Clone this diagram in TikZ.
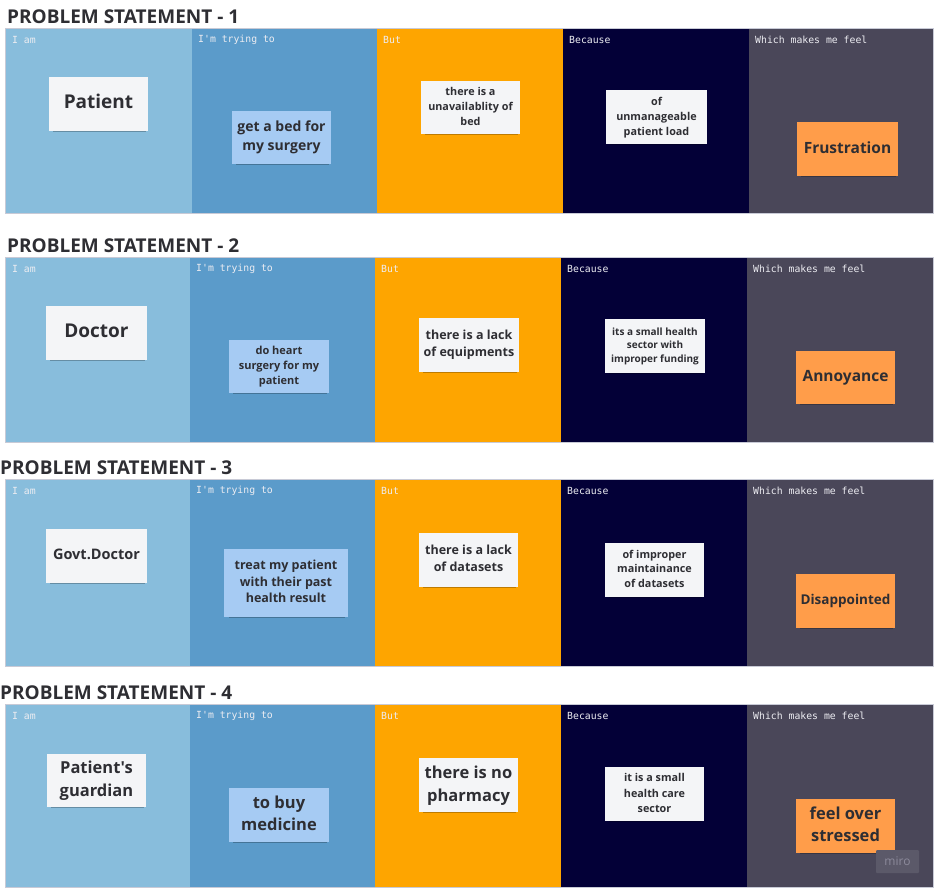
\documentclass[tikz,border=0pt]{standalone}
\usepackage{fontspec}
\setmainfont{Open Sans}
\newfontfamily\osans{Open Sans}
\newfontfamily\monofont{DejaVu Sans Mono}
\usetikzlibrary{shadows}
\definecolor{colA}{HTML}{88BDDC}
\definecolor{colB}{HTML}{5B9BCA}
\definecolor{colC}{HTML}{FEA500}
\definecolor{colD}{HTML}{030037}
\definecolor{colE}{HTML}{4A4759}
\definecolor{stWhite}{HTML}{F4F5F7}
\definecolor{stBlue}{HTML}{A6CBF3}
\definecolor{stOrange}{HTML}{FF9D4A}
\definecolor{inkc}{HTML}{2E2E33}
\definecolor{headc}{HTML}{EDEDF2}
\definecolor{edgec}{HTML}{C8CAD6}
\definecolor{logobox}{HTML}{5B5969}
\definecolor{logotext}{HTML}{8C8A9B}
\newcommand\stk[1]{\raisebox{2.5pt}{\begin{tabular}{@{}c@{}}#1\end{tabular}}}
\newcommand\apos{{\char"0027}}
\tikzset{
  colhead/.style={anchor=west, font=\monofont\fontsize{9.8}{11}\selectfont, text=headc, inner sep=0pt},
  pstitle/.style={anchor=base west, font=\osans\bfseries\fontsize{19}{22}\selectfont, text=inkc, inner sep=0pt},
  sticky/.style 2 args={draw=none, align=center, text=inkc, inner sep=0pt,
    minimum width=#1, minimum height=#2,
    drop shadow={shadow xshift=1pt, shadow yshift=-3pt, shadow scale=0.94, opacity=0.25, fill=black}},
  wnote/.style={fill=stWhite},
  bnote/.style={fill=stBlue},
  onote/.style={fill=stOrange},
  fs/.style 2 args={font=\osans\bfseries\fontsize{#1}{#2}\selectfont},
}
\newcommand\psboard[8]{% top, bottom, x1..x4 boundaries, title x, number
  \fill[colA] (5,#1) rectangle (#3,#2);
  \fill[colB] (#3,#1) rectangle (#4,#2);
  \fill[colC] (#4,#1) rectangle (#5,#2);
  \fill[colD] (#5,#1) rectangle (#6,#2);
  \fill[colE] (#6,#1) rectangle (933,#2);
  \draw[edgec, line width=0.6pt] (5,#1) rectangle (933,#2);
  \node[pstitle] (title#8) at (#7,#1-5) {PROBLEM STATEMENT - #8};
  \node[colhead] (ia#8) at (12,#1+12) {I am};
  \node[colhead] (tr#8) at (#3+6,#1+12) {I\apos m trying to};
  \node[colhead] (bu#8) at (#4+6,#1+12) {But};
  \node[colhead] (be#8) at (#5+6,#1+12) {Because};
  \node[colhead] (fe#8) at (#6+6,#1+12) {Which makes me feel};
}
\begin{document}
\begin{tikzpicture}[x=1pt, y=-1pt]
\useasboundingbox[fill=white] (0,0) rectangle (940,895);

% ---------- Board 1 ----------
\psboard{28}{213}{192}{377}{563}{749}{7}{1}
\node[sticky={99pt}{54pt}, wnote, fs={19}{24}] (s11) at (98.5,104) {\stk{Patient}};
\node[sticky={99pt}{53pt}, bnote, fs={14}{19}] (s12) at (281.5,137.5) {\stk{get a bed for\\my surgery}};
\node[sticky={99pt}{53pt}, wnote, fs={10.8}{15}] (s13) at (470.5,107.5) {\stk{there is a\\unavailablity of\\bed}};
\node[sticky={101pt}{54pt}, wnote, fs={10.8}{15}] (s14) at (656.5,117) {\stk{of\\unmanageable\\patient load}};
\node[sticky={101pt}{54pt}, onote, fs={15.5}{20}] (s15) at (847.5,149) {\stk{Frustration}};

% ---------- Board 2 ----------
\psboard{257}{442}{190}{375}{561}{747}{7}{2}
\node[sticky={101pt}{54pt}, wnote, fs={19}{24}] (s21) at (96.5,333) {\stk{Doctor}};
\node[sticky={100pt}{53pt}, bnote, fs={11}{15.3}] (s22) at (279,366.5) {\stk{do heart\\surgery for my\\patient}};
\node[sticky={100pt}{54pt}, wnote, fs={12.5}{17}] (s23) at (469,345) {\stk{there is a lack\\of equipments}};
\node[sticky={100pt}{54pt}, wnote, fs={10}{13.7}] (s24) at (655,346) {\stk{its a small health\\sector with\\improper funding}};
\node[sticky={99pt}{53pt}, onote, fs={15.5}{20}] (s25) at (845.5,377.5) {\stk{Annoyance}};

% ---------- Board 3 ----------
\psboard{479}{666}{190}{375}{561}{747}{0}{3}
\node[sticky={101pt}{54pt}, wnote, fs={14.5}{19}] (s31) at (96.5,556) {\stk{Govt.Doctor}};
\node[sticky={124pt}{68pt}, bnote, fs={12.5}{16.5}] (s32) at (286,583) {\stk{treat my patient\\with their past\\health result}};
\node[sticky={99pt}{54pt}, wnote, fs={12.5}{17}] (s33) at (468.5,560) {\stk{there is a lack\\of datasets}};
\node[sticky={99pt}{54pt}, wnote, fs={10.8}{14.8}] (s34) at (654.5,570) {\stk{of improper\\maintainance\\of datasets}};
\node[sticky={99pt}{54pt}, onote, fs={13.5}{18}] (s35) at (845.5,601) {\stk{Disappointed}};

% ---------- Board 4 ----------
\psboard{704}{887}{190}{375}{561}{747}{0}{4}
\node[sticky={99pt}{53pt}, wnote, fs={16.5}{22.5}] (s41) at (96.5,780.5) {\stk{Patient's\\guardian}};
\node[sticky={100pt}{54pt}, bnote, fs={16.5}{22}] (s42) at (279,815) {\stk{to buy\\medicine}};
\node[sticky={99pt}{54pt}, wnote, fs={16.5}{23}] (s43) at (468.5,785) {\stk{there is no\\pharmacy}};
\node[sticky={99pt}{54pt}, wnote, fs={10.8}{15.2}] (s44) at (654.5,794) {\stk{it is a small\\health care\\sector}};
\node[sticky={99pt}{54pt}, onote, fs={16.5}{22}] (s45) at (845.5,826) {\stk{feel over\\stressed}};

% miro logo
\node[fill=logobox, text=logotext, rounded corners=1pt,
  minimum width=43pt, minimum height=23pt, inner sep=0pt,
  font=\osans\fontsize{12}{13}\selectfont] (logo) at (897.5,861.5) {miro};
\end{tikzpicture}
\end{document}
